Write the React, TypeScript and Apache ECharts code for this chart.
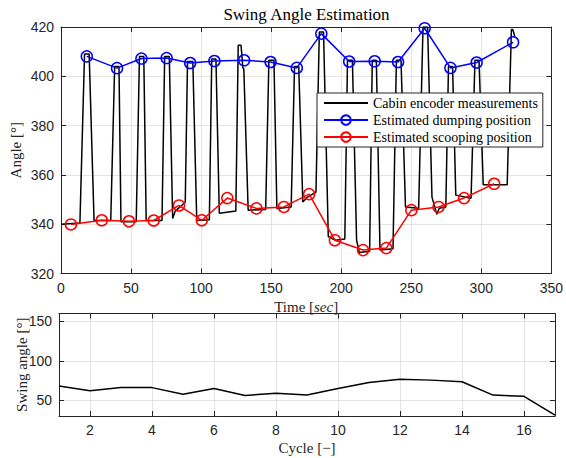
import React, { useEffect, useRef } from "react";
import * as echarts from "echarts";

// ---- Data ----
const encoderTrace: [number, number][] = [
  [0, 340], [13.5, 340.5], [16.8, 409], [20.1, 409], [23.6, 341.5],
  [35.5, 341.5], [38.3, 404], [41.4, 404], [42.8, 341],
  [53.7, 341], [56, 408], [59.1, 408], [60.8, 341.5],
  [72.1, 341.5], [74, 408], [77.3, 408], [79.7, 342.3], [81.5, 345.3], [85, 347], [88.7, 349],
  [90.3, 406], [94.1, 406], [96.9, 341.5],
  [105.9, 341.8], [107.6, 407], [110.6, 407], [113, 344.4],
  [124.8, 345.4], [126.5, 412.6], [128.5, 412.6], [129.2, 408], [129.8, 403.5], [130.5, 403], [133.6, 345.7],
  [146.1, 346], [148.4, 406.5], [152, 406.5], [154.1, 346.4],
  [164.3, 347], [166.7, 404], [169.7, 404], [172.6, 349], [176, 351], [182, 353],
  [184.4, 418], [187.4, 418], [190.8, 335], [196, 333.5], [202.6, 334],
  [204.5, 406.5], [208, 406.5], [211, 333.5], [213, 328.5],
  [220.3, 329], [222.2, 406.5], [225.1, 406.5], [227.7, 329.5],
  [237, 330], [239.4, 406.5], [242.7, 406.5], [245.9, 347],
  [255.3, 346.5], [258.4, 420], [261.7, 420], [264.8, 351], [268.3, 344], [270, 346.5],
  [274.7, 347], [276.6, 404], [279.5, 404], [281.8, 351.8],
  [292.7, 350.5], [295.5, 406.5], [298.4, 406.5], [301.4, 356],
  [318.5, 356], [321.5, 419], [322.5, 419], [324, 416],
];

const dumpTimes = [18.4, 40, 57.4, 75.4, 92.2, 109.5, 130.7, 149.6, 168.3, 185.8, 205.7, 223.9, 240.6, 259.6, 278, 296.7, 322.7];
const dumpAngles = [408.1, 403.3, 407.2, 407.4, 405.4, 406.2, 406.5, 405.8, 403.4, 417.3, 406.0, 406.1, 405.8, 419.5, 403.4, 405.6, 413.8];

const scoopTimes = [7.1, 29.1, 48.5, 66.2, 84.2, 100.5, 118.7, 139.5, 159.1, 177.1, 195.5, 215.6, 232.2, 250.1, 269.5, 287.7, 309.2];
const scoopAngles = [339.9, 341.6, 341.2, 341.5, 347.6, 341.6, 350.6, 346.4, 347.0, 352.2, 333.5, 329.5, 330.3, 345.7, 347.0, 350.6, 356.4];

const cycles = [1, 2, 3, 4, 5, 6, 7, 8, 9, 10, 11, 12, 13, 14, 15, 16, 17];
const swingAngles = [68, 62, 66, 66, 57.5, 65, 56, 59, 56.5, 65, 72.5, 76.5, 75.5, 73.5, 56.5, 55, 31];

const cycleTicks = [2, 4, 6, 8, 10, 12, 14, 16];
const swingTicks = [50, 100, 150];

const serif = "'Liberation Serif', 'DejaVu Serif', serif";
const sans = "'Liberation Sans', Arial, sans-serif";
const axisColor = "#262626";
const gridColor = "#e4e4e4";

export default function App() {
  const ref = useRef<HTMLDivElement>(null);
  useEffect(() => {
    if (!ref.current) return;
    const chart = echarts.init(ref.current, null, { renderer: "svg" });

    const axisLine = { show: true, onZero: false, lineStyle: { color: axisColor, width: 1 } };
    const tick = (extra: any = {}) => ({ show: true, inside: true, length: 5, lineStyle: { color: axisColor, width: 1 }, ...extra });
    const label = (extra: any = {}) => ({ color: axisColor, fontFamily: sans, fontSize: 14, margin: 7, showMinLabel: true, showMaxLabel: true, ...extra });
    const split = (extra: any = {}) => ({ show: true, lineStyle: { color: gridColor, width: 1 }, ...extra });
    const nameStyle = { fontFamily: serif, fontSize: 15, color: axisColor };

    const option: any = {
      animation: false,
      backgroundColor: "#ffffff",
      graphic: [
        {
          type: "text",
          x: 306.5,
          y: 14,
          style: {
            text: "Swing Angle Estimation",
            fontFamily: serif,
            fontSize: 17,
            fill: "#000000",
            textAlign: "center",
            textVerticalAlign: "middle",
          },
        },
      ],
      grid: [
        { left: 60, top: 27, width: 493, height: 246.5 },
        { left: 59, top: 313.5, width: 496, height: 102.5 },
      ],
      legend: {
        data: [
          { name: "Cabin encoder measurements", itemStyle: { opacity: 0, color: "rgba(0,0,0,0)", borderWidth: 0 } },
          { name: "Estimated dumping position" },
          { name: "Estimated scooping position" },
        ],
        orient: "vertical",
        left: 317,
        top: 93,
        itemWidth: 44,
        itemHeight: 12,
        itemGap: 3,
        padding: [3, 5, 3, 6],
        backgroundColor: "#ffffff",
        borderColor: axisColor,
        borderWidth: 1,
        borderRadius: 0,
        selectedMode: false,
        textStyle: { fontFamily: serif, fontSize: 14, color: "#000000" },
        z: 10,
      },
      xAxis: [
        {
          gridIndex: 0, type: "value", min: 0, max: 350, interval: 50, position: "bottom",
          axisLine, axisTick: tick(), axisLabel: label(), splitLine: split(),
          name: "Time [{i|sec}]", nameLocation: "middle", nameGap: 26, nameMoveOverlap: false,
          nameTextStyle: { ...nameStyle, rich: { i: { fontFamily: serif, fontSize: 15, fontStyle: "italic", color: axisColor } } },
        },
        {
          gridIndex: 0, type: "value", min: 0, max: 350, interval: 50, position: "top",
          axisLine, axisTick: tick(), axisLabel: { show: false }, splitLine: { show: false },
        },
        {
          gridIndex: 1, type: "value", min: 1, max: 17, position: "bottom",
          axisLine, axisTick: tick({ customValues: cycleTicks }), axisLabel: label({ customValues: cycleTicks }),
          splitLine: split(),
          name: "Cycle [−]", nameLocation: "middle", nameGap: 24, nameMoveOverlap: false, nameTextStyle: nameStyle,
        },
        {
          gridIndex: 1, type: "value", min: 1, max: 17, position: "top",
          axisLine, axisTick: tick({ customValues: cycleTicks }), axisLabel: { show: false, customValues: cycleTicks }, splitLine: { show: false },
        },
      ],
      yAxis: [
        {
          gridIndex: 0, type: "value", min: 320, max: 420, interval: 20, position: "left",
          axisLine, axisTick: tick(), axisLabel: label(), splitLine: split(),
          name: "Angle [°]", nameLocation: "middle", nameGap: 38, nameMoveOverlap: false, nameTextStyle: nameStyle,
        },
        {
          gridIndex: 0, type: "value", min: 320, max: 420, interval: 20, position: "right",
          axisLine, axisTick: tick(), axisLabel: { show: false }, splitLine: { show: false },
        },
        {
          gridIndex: 1, type: "value", min: 30, max: 160, position: "left",
          axisLine, axisTick: tick({ customValues: swingTicks }), axisLabel: label({ customValues: swingTicks }),
          splitLine: split(),
          name: "Swing angle [°]", nameLocation: "middle", nameGap: 30, nameMoveOverlap: false, nameTextStyle: nameStyle,
        },
        {
          gridIndex: 1, type: "value", min: 30, max: 160, position: "right",
          axisLine, axisTick: tick({ customValues: swingTicks }), axisLabel: { show: false, customValues: swingTicks }, splitLine: { show: false },
        },
      ],
      series: [
        {
          name: "Cabin encoder measurements",
          type: "line", xAxisIndex: 0, yAxisIndex: 0,
          data: encoderTrace,
          symbol: "none", showSymbol: false,
          lineStyle: { color: "#000000", width: 1.5 },
          itemStyle: { color: "#000000" },
          z: 2,
        },
        {
          name: "Estimated dumping position",
          type: "line", xAxisIndex: 0, yAxisIndex: 0,
          data: dumpTimes.map((t, i) => [t, dumpAngles[i]]),
          symbol: "circle", symbolSize: 11, showSymbol: true,
          lineStyle: { color: "#0000ff", width: 1.5 },
          itemStyle: { color: "rgba(0,0,0,0)", borderColor: "#0000ff", borderWidth: 1.5 },
          z: 3,
        },
        {
          name: "Estimated scooping position",
          type: "line", xAxisIndex: 0, yAxisIndex: 0,
          data: scoopTimes.map((t, i) => [t, scoopAngles[i]]),
          symbol: "circle", symbolSize: 11, showSymbol: true,
          lineStyle: { color: "#ff0000", width: 1.5 },
          itemStyle: { color: "rgba(0,0,0,0)", borderColor: "#ff0000", borderWidth: 1.5 },
          z: 3,
        },
        {
          name: "Swing angle",
          type: "line", xAxisIndex: 2, yAxisIndex: 2,
          data: cycles.map((c, i) => [c, swingAngles[i]]),
          symbol: "none", showSymbol: false,
          lineStyle: { color: "#000000", width: 1.5 },
          itemStyle: { color: "#000000" },
        },
      ],
    };

    chart.setOption(option);
    return () => chart.dispose();
  }, []);

  return (
    <div
      ref={ref}
      style={{ position: "fixed", left: 0, top: 0, width: 566, height: 458, background: "#fff" }}
    />
  );
}
